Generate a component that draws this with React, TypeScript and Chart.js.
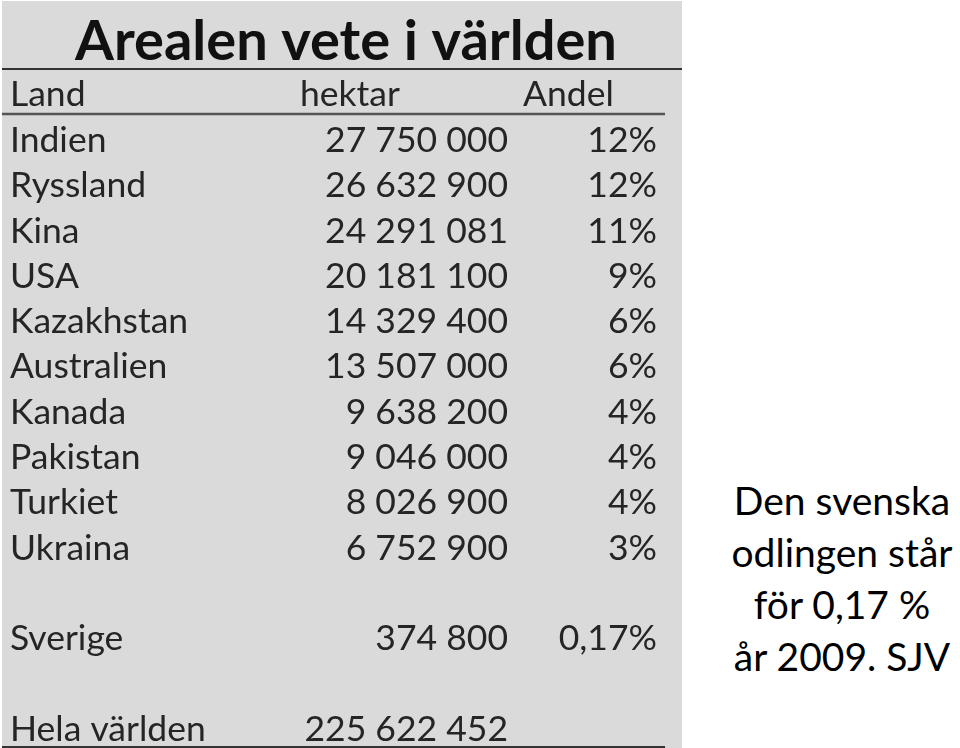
import React, { useEffect, useRef } from "react";
import { Chart, registerables } from "chart.js";

Chart.register(...registerables);

const titleText = "Arealen vete i världen";
const headers = ["Land", "hektar", "Andel"];
const countries = [
  "Indien", "Ryssland", "Kina", "USA", "Kazakhstan", "Australien", "Kanada",
  "Pakistan", "Turkiet", "Ukraina", "", "Sverige", "", "Hela världen",
];
const hektar: (number | null)[] = [
  27750000, 26632900, 24291081, 20181100, 14329400, 13507000, 9638200,
  9046000, 8026900, 6752900, null, 374800, null, 225622452,
];
const andel = ["12%", "12%", "11%", "9%", "6%", "6%", "4%", "4%", "4%", "3%", "", "0,17%", "", ""];
const noteLines = ["Den svenska", "odlingen står", "för 0,17 %", "år 2009. SJV"];

const FONT = "Lato, 'Open Sans', sans-serif";
const TEXT_COLOR = "#252525";
const PANEL = "#dadada";
const W = 682;
const H = 748;
const CANVAS_H = 770;
const HEKTAR_RIGHT = 508;
const ANDEL_RIGHT = 657;
const HEADER_X = [10, 300, 523];
const HEADER_Y = 95;
const BODY_SIZE = 35.5;

const fmt = (n: number) => n.toString().replace(/\B(?=(\d{3})+(?!\d))/g, " ");

const tablePlugin = {
  id: "tablePlugin",
  beforeDraw(chart: any) {
    const ctx = chart.ctx;
    ctx.save();
    ctx.fillStyle = PANEL;
    ctx.fillRect(2, 1, W - 2, CANVAS_H - 1);
    ctx.restore();
  },
  afterDraw(chart: any) {
    const ctx = chart.ctx;
    const y = chart.scales.y;
    ctx.save();
    // rules
    ctx.strokeStyle = "#333";
    ctx.lineWidth = 2;
    ctx.beginPath();
    ctx.moveTo(2, 69);
    ctx.lineTo(W, 69);
    ctx.stroke();
    ctx.strokeStyle = "#555";
    ctx.lineWidth = 2.5;
    ctx.beginPath();
    ctx.moveTo(2, 114);
    ctx.lineTo(665, 114);
    ctx.stroke();
    ctx.strokeStyle = "#333";
    ctx.lineWidth = 2;
    ctx.beginPath();
    ctx.moveTo(2, 747);
    ctx.lineTo(665, 747);
    ctx.stroke();
    // header
    ctx.fillStyle = TEXT_COLOR;
    ctx.font = `${BODY_SIZE}px ${FONT}`;
    ctx.textBaseline = "middle";
    ctx.textAlign = "left";
    headers.forEach((h, i) => ctx.fillText(h, HEADER_X[i], HEADER_Y));
    // cells
    countries.forEach((_, i) => {
      const py = y.getPixelForValue(i);
      const v = hektar[i];
      ctx.textAlign = "right";
      if (v != null) ctx.fillText(fmt(v), HEKTAR_RIGHT, py);
      if (andel[i]) ctx.fillText(andel[i], ANDEL_RIGHT, py);
    });
    ctx.restore();
  },
};

export default function App() {
  const ref = useRef<HTMLCanvasElement | null>(null);
  useEffect(() => {
    if (!ref.current) return;
    const chart = new Chart(ref.current, {
      type: "bar",
      data: {
        labels: countries,
        datasets: [
          {
            label: "hektar",
            data: hektar,
            backgroundColor: "rgba(0,0,0,0)",
            borderWidth: 0,
          },
        ],
      },
      options: {
        indexAxis: "y",
        responsive: false,
        animation: false,
        layout: { padding: { left: 10, top: 0, right: 0, bottom: CANVAS_H - 729.5 } },
        plugins: {
          legend: { display: false },
          tooltip: { enabled: false },
          title: {
            display: true,
            text: titleText,
            color: "#111",
            font: { family: FONT, size: 56, weight: "bold" },
            padding: { top: 8.4, bottom: 64.9 },
          },
        },
        scales: {
          x: { display: false, min: 0 },
          y: {
            offset: false,
            grid: { display: false },
            border: { display: false },
            ticks: {
              crossAlign: "far",
              color: TEXT_COLOR,
              font: { family: FONT, size: BODY_SIZE },
              autoSkip: false,
            },
          },
        },
      },
      plugins: [tablePlugin],
    });
    return () => chart.destroy();
  }, []);

  return (
    <div style={{ position: "absolute", left: 0, top: 0, width: 960, height: 748, background: "#fff", overflow: "hidden" }}>
      <canvas ref={ref} width={W} height={CANVAS_H} style={{ position: "absolute", left: 0, top: 0 }} />
      <div
        style={{
          position: "absolute",
          left: 704,
          width: 276,
          top: 474,
          fontFamily: FONT,
          fontSize: 39,
          lineHeight: "52px",
          color: "#000",
          textAlign: "center",
          whiteSpace: "nowrap",
        }}
      >
        {noteLines.map((l, i) => (
          <div key={i}>{l}</div>
        ))}
      </div>
    </div>
  );
}
